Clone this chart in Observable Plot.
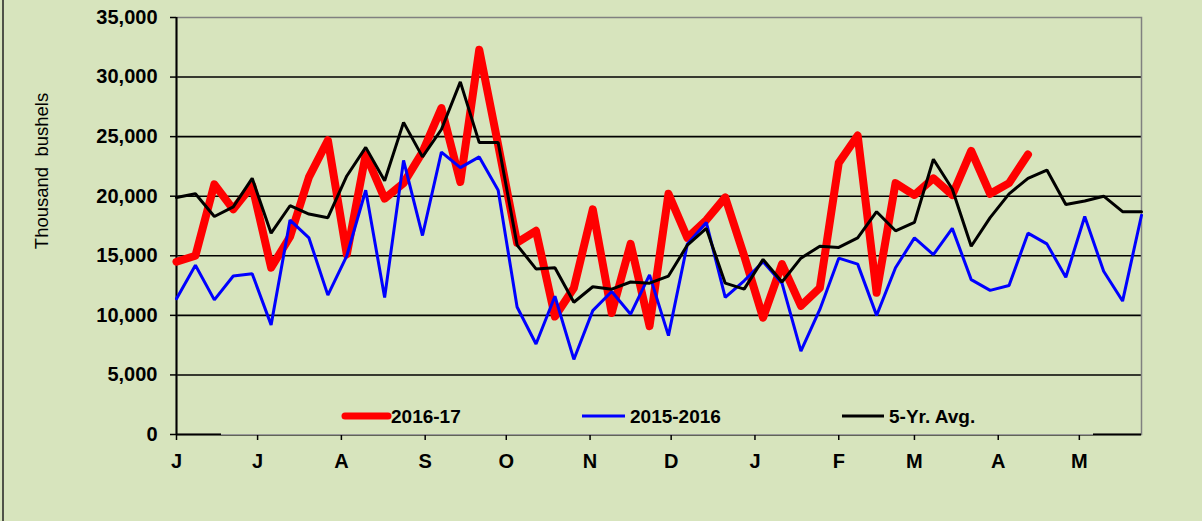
<!DOCTYPE html>
<html><head><meta charset="utf-8">
<script src="https://cdn.jsdelivr.net/npm/d3@7"></script>
<script src="https://cdn.jsdelivr.net/npm/@observablehq/plot@0.6"></script>
<style>
html,body{margin:0;padding:0;background:#d7e4bd;}
#chart{position:relative;width:1202px;height:521px;overflow:hidden;}
svg{display:block;}
</style></head><body><div id="chart"></div>
<script>
// Month tick labels (marketing year June–May) and the day of the year at which each month starts
const monthLabels = ["J","J","A","S","O","N","D","J","F","M","A","M"];
const monthStartDays = [0,30,61,92,122,153,183,214,245,273,304,334];
const yTickValues = [0,5000,10000,15000,20000,25000,30000,35000];

// Weekly values, thousand bushels
const series2016_17 = [14500,15000,21000,18900,20900,14000,16600,21600,24700,15100,
  23500,19800,21100,23700,27400,21200,32300,24300,16100,17100,
  9900,12300,18900,10200,16000,9100,20200,16500,18000,19900,
  15000,9800,14300,10800,12300,22800,25100,11900,21100,20100,
  21500,20100,23800,20200,21100,23500];
const series2015_16 = [11400,14200,11300,13300,13500,9200,18000,16500,11700,15000,
  20500,11500,23000,16700,23700,22400,23300,20500,10700,7600,
  11600,6300,10400,12000,10100,13400,8300,16000,17800,11500,
  12900,14500,12700,7000,10500,14800,14300,10000,14000,16500,
  15100,17300,13000,12100,12500,16900,16000,13200,18300,13700,
  11200,18400];
const series5yrAvg = [19900,20200,18300,19100,21500,16900,19200,18500,18200,21700,
  24100,21300,26200,23300,25600,29600,24500,24500,15900,13900,
  14000,11100,12400,12200,12800,12700,13300,15900,17300,12700,
  12200,14700,12800,14800,15800,15700,16500,18700,17100,17800,
  23100,20600,15800,18200,20200,21500,22200,19300,19600,20000,
  18700,18700];

const seriesNames = ["2016-17","2015-2016","5-Yr. Avg."];
const seriesColors = ["#ff0000","#0000ff","#000000"];
const bg = "#d7e4bd";

const toRows = (vals, name) => vals.map((v, i) => ({week: i, value: v, series: name}));
const rowsA = toRows(series2016_17, seriesNames[0]);
const rowsB = toRows(series2015_16, seriesNames[1]);
const rowsC = toRows(series5yrAvg, seriesNames[2]);
const monthTicks = monthStartDays.map(d => d / 7);

const plot = Plot.plot({
  width: 1202, height: 521,
  marginLeft: 176, marginRight: 61, marginTop: 17, marginBottom: 87,
  style: {background: bg, fontFamily: "'Liberation Sans', Arial, sans-serif", fontSize: "20px", fontWeight: "bold", color: "#000", overflow: "visible"},
  x: {domain: [0, 51]},
  y: {domain: [0, 35000]},
  marks: [
    Plot.ruleY(yTickValues.filter(d => d > 0 && d < 35000), {stroke: "#000", strokeWidth: 1.6}),
    Plot.frame({stroke: "#808080", strokeWidth: 1.5}),
    Plot.ruleY([0], {stroke: "#000", strokeWidth: 2}),
    Plot.ruleX([0], {stroke: "#000", strokeWidth: 2}),
    Plot.axisY({ticks: yTickValues, tickFormat: d3.format(","), tickSize: 6, tickPadding: 13, label: null, strokeWidth: 1.5}),
    Plot.axisX({ticks: monthTicks, tickFormat: d => monthLabels[monthTicks.indexOf(d)], tickSize: 6, tickPadding: 13, label: null, strokeWidth: 1.5}),
    Plot.line(rowsA, {x: "week", y: "value", stroke: seriesColors[0], strokeWidth: 8, strokeLinejoin: "round", strokeLinecap: "round"}),
    Plot.line(rowsB, {x: "week", y: "value", stroke: seriesColors[1], strokeWidth: 3, strokeLinejoin: "miter"}),
    Plot.line(rowsC, {x: "week", y: "value", stroke: seriesColors[2], strokeWidth: 3, strokeLinejoin: "miter"})
  ]
});
document.getElementById("chart").appendChild(plot);

const svg = d3.select(plot);
// outer chart border (left edge)
svg.append("line").attr("x1", 3).attr("x2", 3).attr("y1", 0).attr("y2", 521)
  .attr("stroke", "#222").attr("stroke-width", 1.5);

// y-axis title
svg.append("text")
  .attr("transform", "translate(48,171) rotate(-90)")
  .attr("text-anchor", "middle")
  .style("font-weight", "normal").style("font-size", "18.5px")
  .attr("fill", "#000")
  .text("Thousand  bushels");

// legend box (covers part of the x axis line, as in the reference)
const lg = svg.append("g").attr("text-anchor", "start");
lg.append("rect").attr("x", 221).attr("y", 395).attr("width", 872).attr("height", 39.2).attr("fill", bg);
lg.append("line").attr("x1", 221).attr("x2", 1093).attr("y1", 434.5).attr("y2", 434.5)
  .attr("stroke", "#9a9a9a").attr("stroke-width", 1.2);
const legendItems = [
  {x1: 345, x2: 388, tx: 391, w: 7},
  {x1: 582, x2: 625, tx: 630, w: 3},
  {x1: 842, x2: 884, tx: 889, w: 3}
];
legendItems.forEach((it, i) => {
  lg.append("line").attr("x1", it.x1).attr("x2", it.x2).attr("y1", 416).attr("y2", 416)
    .attr("stroke", seriesColors[i]).attr("stroke-width", it.w)
    .attr("stroke-linecap", i === 0 ? "round" : "butt");
  lg.append("text").attr("x", it.tx).attr("y", 416).attr("dy", "0.36em")
    .attr("text-anchor", "start")
    .style("font-size", "19px").style("font-weight", "bold").attr("fill", "#000")
    .text(seriesNames[i]);
});
</script></body></html>
